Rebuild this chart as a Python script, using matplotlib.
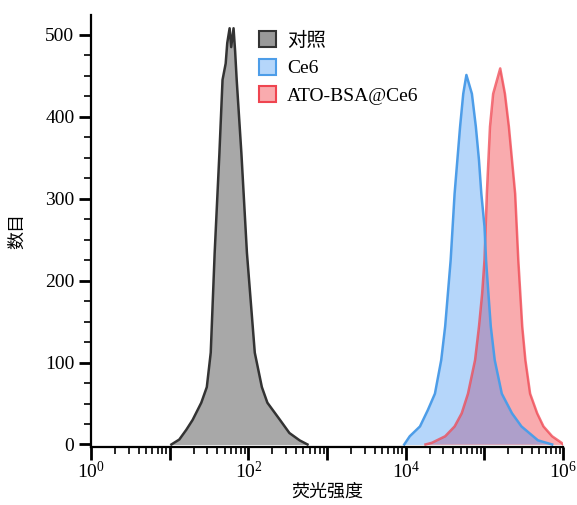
import matplotlib
matplotlib.use('Agg')
import matplotlib.pyplot as plt
import matplotlib.patches as mpatches
from matplotlib.ticker import FixedLocator, LogLocator, NullFormatter, MultipleLocator
import numpy as np

plt.rcParams['font.family'] = ['Liberation Serif', 'Noto Sans CJK SC']
plt.rcParams['mathtext.fontset'] = 'stix'

# log10 of fluorescence intensity, and event counts
ctrl_log = [1.02, 1.12, 1.21, 1.29, 1.40, 1.47, 1.52, 1.57, 1.63, 1.67, 1.71, 1.73, 1.76,
            1.78, 1.81, 1.83, 1.85, 1.91, 1.98, 2.08, 2.17, 2.24, 2.40, 2.52, 2.65, 2.75]
ctrl_cnt = [0, 6, 18, 30, 51, 70, 112, 234, 355, 445, 465, 490, 508,
            485, 508, 480, 445, 355, 234, 112, 70, 51, 30, 14, 5, 0]

ce6_log = [3.98, 4.05, 4.18, 4.28, 4.37, 4.45, 4.50, 4.57, 4.62, 4.69, 4.73, 4.77, 4.84,
           4.89, 4.93, 4.96, 5.00, 5.02, 5.05, 5.08, 5.13, 5.22, 5.35, 5.47, 5.68, 5.86]
ce6_cnt = [0, 10, 22, 42, 62, 103, 144, 225, 306, 388, 428, 451, 428,
           388, 347, 306, 266, 225, 184, 144, 103, 62, 38, 22, 5, 0]

ato_log = [4.25, 4.33, 4.50, 4.62, 4.71, 4.79, 4.88, 4.93, 4.97, 5.00, 5.03, 5.07, 5.11,
           5.20, 5.26, 5.31, 5.39, 5.43, 5.48, 5.52, 5.58, 5.67, 5.75, 5.86, 5.98, 6.0]
ato_cnt = [0, 2, 10, 22, 38, 62, 103, 144, 184, 225, 306, 388, 428,
           459, 428, 388, 306, 225, 144, 103, 62, 38, 22, 10, 2, 0]

labels = ['对照', 'Ce6', 'ATO-BSA@Ce6']
fills = ['#a8a8a8', '#b5d6fa', '#f9abae']
edges = ['#333333', '#4d9de8', '#ef4550']
overlap = '#ae9fca'

fig = plt.figure(figsize=(5.77, 5.05), dpi=100)
ax = fig.add_axes([0.158, 0.115, 0.818, 0.855])
ax.set_xscale('log')

x0 = 10 ** np.array(ctrl_log)
x1 = 10 ** np.array(ce6_log)
x2 = 10 ** np.array(ato_log)

ax.fill_between(x0, 0, ctrl_cnt, color=fills[0], linewidth=0)
ax.plot(x0, ctrl_cnt, color=edges[0], linewidth=1.8)

blue = ax.fill_between(x1, 0, ce6_cnt, color=fills[1], linewidth=0)
ax.fill_between(x2, 0, ato_cnt, color=fills[2], linewidth=0)
# overlap of the two histograms: red area clipped by the blue one
ov = ax.fill_between(x2, 0, ato_cnt, color=overlap, linewidth=0)
ov.set_clip_path(blue.get_paths()[0], blue.get_transform())
ax.plot(x2, ato_cnt, color=edges[2], linewidth=1.8, alpha=0.75)
ax.plot(x1, ce6_cnt, color=edges[1], linewidth=1.8)

ax.set_xlim(1, 1e6)
ax.set_ylim(-3, 524)

ax.xaxis.set_major_locator(FixedLocator([10.0 ** k for k in range(7)]))
ax.xaxis.set_minor_locator(LogLocator(base=10, subs=np.arange(2, 10), numticks=20))
ax.xaxis.set_minor_formatter(NullFormatter())
ax.set_xticklabels(['$\\mathregular{10^{%d}}$' % k if k % 2 == 0 else '' for k in range(7)])
ax.yaxis.set_major_locator(MultipleLocator(100))
ax.yaxis.set_minor_locator(MultipleLocator(25))

for s in ['top', 'right']:
    ax.spines[s].set_visible(False)
for s in ['left', 'bottom']:
    ax.spines[s].set_linewidth(1.6)

ax.tick_params(which='major', length=9, width=2, labelsize=14, pad=3)
ax.tick_params(axis='x', which='major', pad=1)
ax.tick_params(which='minor', length=5, width=1.2)

ax.set_xlabel('荧光强度', fontsize=13, labelpad=1)
ax.set_ylabel('数目', fontsize=13, labelpad=14)

handles = [mpatches.Patch(facecolor=fc, edgecolor=ec, linewidth=1.5)
           for fc, ec in zip(fills, edges)]
handles[0].set_facecolor('#999999')
ax.legend(handles, labels, loc='upper left', bbox_to_anchor=(0.33, 0.99), frameon=False,
          fontsize=14, handlelength=0.9, handleheight=0.9, handletextpad=0.55,
          labelspacing=0.45, borderaxespad=0.2)

fig.savefig('out.png', dpi=100)
